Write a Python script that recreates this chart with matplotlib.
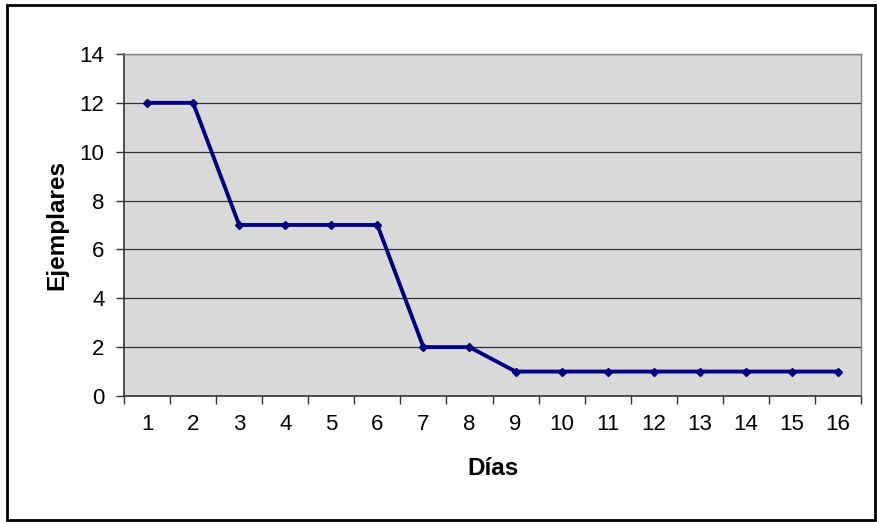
import matplotlib.pyplot as plt
from matplotlib.patches import Rectangle

dias = list(range(1, 17))
ejemplares = [12, 12, 7, 7, 7, 7, 2, 2, 1, 1, 1, 1, 1, 1, 1, 1]


def main():
    plt.rcParams['font.family'] = ['Liberation Sans', 'DejaVu Sans']
    fig = plt.figure(figsize=(8.77, 5.22), dpi=100)
    ax = fig.add_axes([0.1414, 0.2414, 0.8404, 0.6552])
    ax.set_facecolor('#d9d9d9')

    ax.plot(dias, ejemplares, color='#000080', linewidth=2.8,
            marker='D', markersize=4.5, zorder=3)

    ax.set_xlim(0.5, 16.5)
    ax.set_ylim(0, 14)
    ax.set_yticks(range(0, 15, 2))
    ax.set_xticks(dias)
    ax.set_xticks([d + 0.5 for d in range(0, 17)], minor=True)
    ax.tick_params(axis='x', which='major', length=0, labelsize=16, pad=13)
    ax.tick_params(axis='x', which='minor', length=6, width=1, color='#333333')
    ax.tick_params(axis='y', length=6, width=1, labelsize=16, pad=8,
                   color='#333333')
    ax.grid(axis='y', color='#333333', linewidth=0.9)
    ax.set_axisbelow(True)

    for s in ['left', 'bottom']:
        ax.spines[s].set_color('#333333')
        ax.spines[s].set_linewidth(1.2)
    for s in ['top', 'right']:
        ax.spines[s].set_color('#808080')
        ax.spines[s].set_linewidth(1)

    ax.set_ylabel('Ejemplares', fontsize=17.5, fontweight='bold', labelpad=8)
    ax.set_xlabel('Días', fontsize=17.5, fontweight='bold', labelpad=16)

    fig.patches.append(Rectangle((0.008, 0.004), 0.990, 0.987,
                                 transform=fig.transFigure, fill=False,
                                 edgecolor='black', linewidth=2))

    fig.savefig('out.png', dpi=100)


if __name__ == '__main__':
    main()
